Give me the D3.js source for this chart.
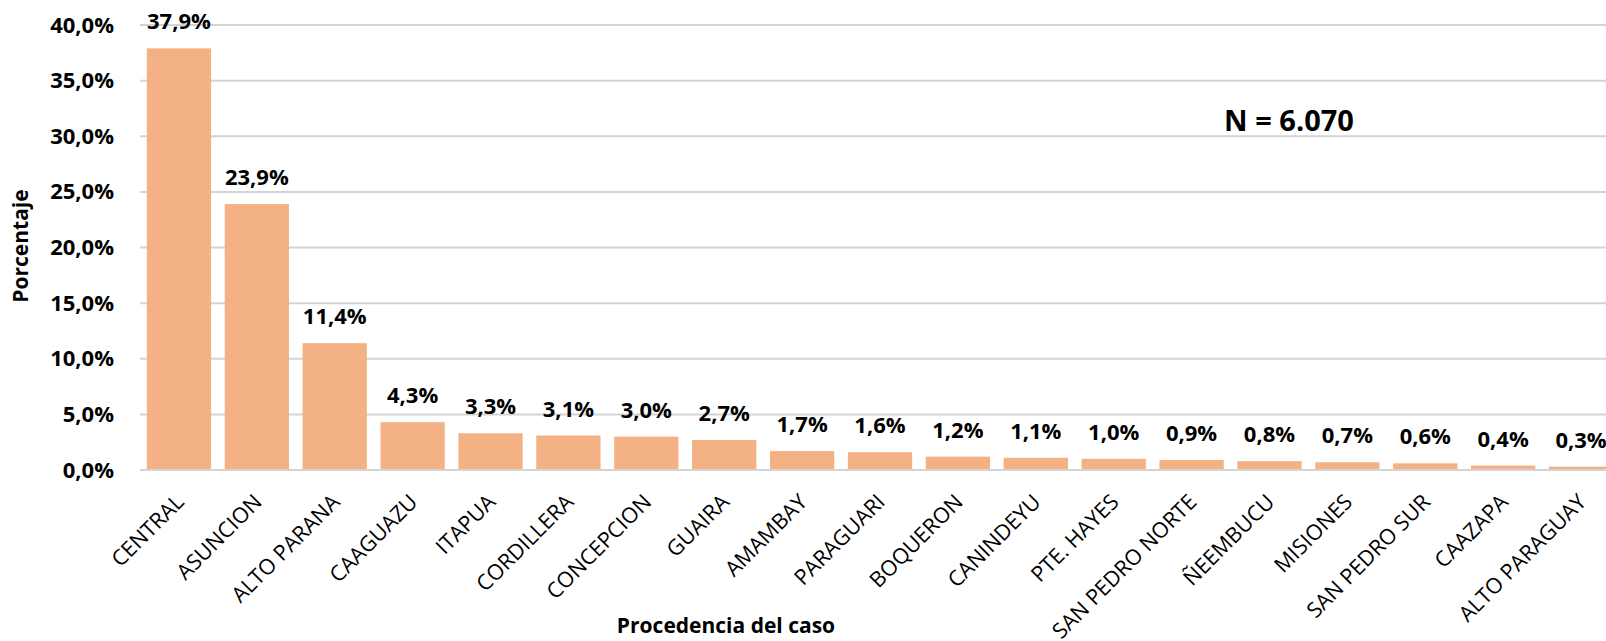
<!DOCTYPE html>
<html>
<head>
<meta charset="utf-8">
<script src="https://cdn.jsdelivr.net/npm/d3@7"></script>
<style>
  html, body { margin: 0; padding: 0; background: #fff; overflow: hidden; }
  svg { display: block; }
</style>
</head>
<body>
<svg id="chart" width="1606" height="641"></svg>
<script>
// Data
const departments = ["CENTRAL", "ASUNCION", "ALTO PARANA", "CAAGUAZU", "ITAPUA", "CORDILLERA",
  "CONCEPCION", "GUAIRA", "AMAMBAY", "PARAGUARI", "BOQUERON", "CANINDEYU", "PTE. HAYES",
  "SAN PEDRO NORTE", "ÑEEMBUCU", "MISIONES", "SAN PEDRO SUR", "CAAZAPA", "ALTO PARAGUAY"];
const percentages = [37.9, 23.9, 11.4, 4.3, 3.3, 3.1, 3.0, 2.7, 1.7, 1.6, 1.2, 1.1, 1.0, 0.9, 0.8, 0.7, 0.6, 0.4, 0.3];
const yTicks = [0, 5, 10, 15, 20, 25, 30, 35, 40];
const totalLabel = "N = 6.070";

const font_family = "'Open Sans', sans-serif";
const bar_color = "#f4b183";
const grid_color = "#d4d4d4";

const svg = d3.select("#chart");
const width = 1606, height = 641;
const margin = { top: 25, left: 140, bottom: 171 };
const plotRight = 1620; // plot runs past the right edge like the source

const fmt = v => v.toFixed(1).replace(".", ",") + "%";

const x = d3.scaleBand()
  .domain(departments)
  .range([margin.left, plotRight])
  .paddingInner(0.175)
  .paddingOuter(0.0875);

const y = d3.scaleLinear()
  .domain([0, 40])
  .range([height - margin.bottom, margin.top]);

// Gridlines
svg.append("g")
  .selectAll("line")
  .data(yTicks)
  .join("line")
  .attr("x1", margin.left)
  .attr("x2", plotRight)
  .attr("y1", d => y(d))
  .attr("y2", d => y(d))
  .attr("stroke", grid_color)
  .attr("stroke-width", 2);

// Y axis labels
const yAxis = svg.append("g")
  .attr("transform", `translate(${margin.left}, 0)`)
  .call(d3.axisLeft(y).tickValues(yTicks).tickSize(0).tickPadding(26).tickFormat(d => fmt(d)));
yAxis.select(".domain").remove();
yAxis.selectAll("text")
  .style("font-family", font_family)
  .style("font-size", "22px")
  .style("font-weight", "bold")
  .attr("fill", "#000");

// Bars
svg.append("g")
  .selectAll("rect")
  .data(percentages)
  .join("rect")
  .attr("x", (d, i) => x(departments[i]))
  .attr("width", x.bandwidth())
  .attr("y", d => y(d))
  .attr("height", d => y(0) - y(d) - 1)
  .attr("fill", bar_color);

// Value labels
svg.append("g")
  .selectAll("text")
  .data(percentages)
  .join("text")
  .attr("x", (d, i) => x(departments[i]) + x.bandwidth() / 2)
  .attr("y", d => y(d) - 19)
  .attr("text-anchor", "middle")
  .attr("font-family", font_family)
  .attr("font-size", 22)
  .attr("font-weight", "bold")
  .attr("fill", "#000")
  .text(d => fmt(d));

// X axis labels
const xAxis = svg.append("g")
  .attr("transform", `translate(0, ${y(0)})`)
  .call(d3.axisBottom(x).tickSize(0).tickPadding(0));
xAxis.select(".domain").remove();
xAxis.selectAll("text")
  .attr("transform", "translate(1, 28) rotate(-45)")
  .attr("text-anchor", "end")
  .attr("dy", "0.35em")
  .attr("y", 0)
  .style("font-family", font_family)
  .style("font-size", "21.5px")
  .attr("fill", "#000");

// Axis titles
svg.append("text")
  .attr("transform", "rotate(-90)")
  .attr("x", -246)
  .attr("y", 28)
  .attr("text-anchor", "middle")
  .attr("font-family", font_family)
  .attr("font-size", 21)
  .attr("font-weight", "bold")
  .text("Porcentaje");

svg.append("text")
  .attr("x", 726)
  .attr("y", 633)
  .attr("text-anchor", "middle")
  .attr("font-family", font_family)
  .attr("font-size", 21)
  .attr("font-weight", "bold")
  .text("Procedencia del caso");

// N annotation
svg.append("text")
  .attr("x", 1289)
  .attr("y", 131)
  .attr("text-anchor", "middle")
  .attr("font-family", font_family)
  .attr("font-size", 29)
  .attr("font-weight", "bold")
  .text(totalLabel);
</script>
</body>
</html>
